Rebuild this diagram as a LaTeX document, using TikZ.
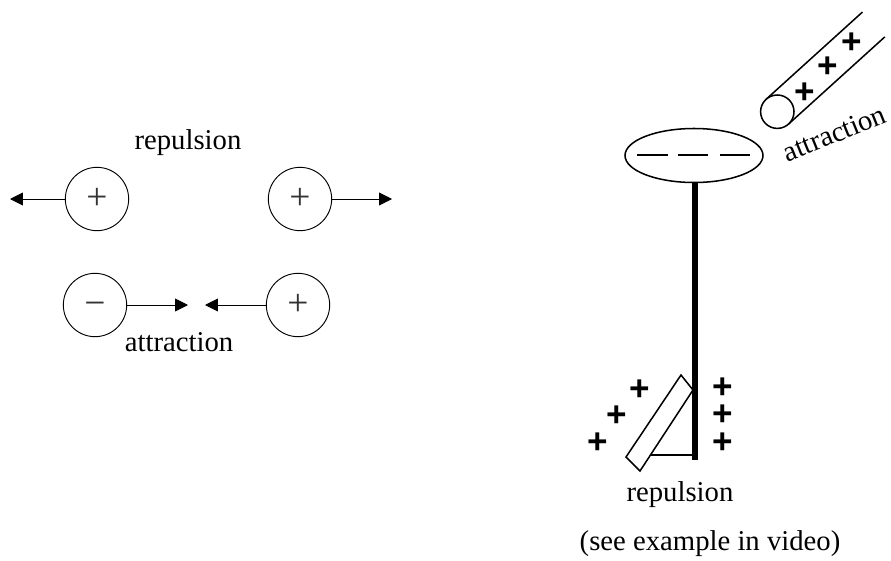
\documentclass[tikz,border=0pt]{standalone}
\usepackage{fontspec}
\setmainfont{Liberation Serif}
\newfontfamily\plusfont{Liberation Sans}
\usetikzlibrary{arrows.meta}

\tikzset{
	charge/.style={draw,circle,line width=0.8pt,minimum size=1.9cm,inner sep=0pt,
		font=\fontsize{32}{36}\selectfont,text=black!80},
	force/.style={line width=0.8pt,-{Triangle[length=11pt,width=11pt]}},
	lbl/.style={font=\fontsize{24.5}{29}\selectfont,anchor=base,inner sep=0pt},
	bigplus/.style={font=\plusfont\bfseries\fontsize{30}{30}\selectfont,inner sep=0pt}
}

\begin{document}
\begin{tikzpicture}[x=0.03cm,y=-0.03cm]
	\useasboundingbox (0,0) rectangle (891,561);

	% like charges push apart
	\node[lbl] (rep) at (188,149) {repulsion};
	\node[charge] (pa) at (97,199) {+};
	\node[charge] (pb) at (300,199) {+};
	\coordinate (ta) at (10,199);
	\coordinate (tb) at (392,199);
	\draw[force] (pa) -- (ta);
	\draw[force] (pb) -- (tb);

	% unlike charges pull together
	\node[charge] (mc) at (95,305) {\vphantom{+}−};
	\node[charge] (pc) at (298,305) {+};
	\coordinate (tc) at (188,305);
	\coordinate (td) at (205,305);
	\draw[force] (mc) -- (tc);
	\draw[force] (pc) -- (td);
	\node[lbl] (att) at (179,351) {attraction};

	% charged rod
	\draw[line width=1.3pt] (862.4,12.1) -- (766.1,99.3);
	\draw[line width=1.3pt] (884.8,36.9) -- (788.5,124.1);
	\draw[line width=1.3pt,fill=white] (777.3,111.7) circle (16.7);
	\foreach\i\j in {805/93, 828/67, 852/43}
		{\node[bigplus] at (\i,\j) {+};}
	\node[lbl,rotate=22] (att2) at (838,142) {attraction};

	% electroscope: knob, stem and leaf
	\draw[line width=1.3pt] (694,155.5) ellipse [x radius=69, y radius=27];
	\foreach\a\b in {637/668, 678/708, 720/750}
		{\draw[line width=2.4pt] (\a,155) -- (\b,155);}
	\draw[line width=1.3pt,fill=white] (626,457) -- (640,471) -- (693,390) -- (681,375) -- cycle;
	\draw[line width=1.1pt] (651,455) -- (693,455);
	\draw[line width=5pt] (695,182) -- (695,460);
	\foreach\i\j in {640/390, 617/416, 598/443, 723/388, 723/415, 723/443}
		{\node[bigplus] at (\i,\j) {+};}
	\node[lbl] (rep2) at (680,501) {repulsion};
	\node[lbl] (note) at (710,550) {(see example in video)};
\end{tikzpicture}
\end{document}
